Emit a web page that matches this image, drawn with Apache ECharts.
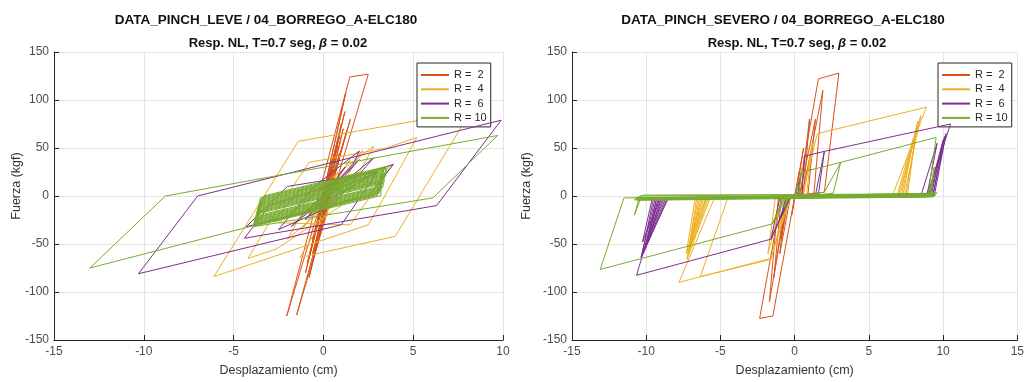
<!DOCTYPE html>
<html><head><meta charset="utf-8">
<script src="https://cdn.jsdelivr.net/npm/echarts@6/dist/echarts.min.js"></script>
<style>html,body{margin:0;padding:0;background:#fff}#c{width:1027px;height:382px}</style>
</head><body><div id="c"></div>
<script>
// ---- labels ----
const seriesNames = ['R =  2', 'R =  4', 'R =  6', 'R = 10'];
const seriesColors = ['#D95319', '#EDB120', '#7E2F8E', '#77AC30'];
const titleLeve = 'DATA_PINCH_LEVE / 04_BORREGO_A-ELC180';
const titleSevero = 'DATA_PINCH_SEVERO / 04_BORREGO_A-ELC180';
const subTitle = '{b|Resp. NL, T=0.7 seg, }{i|β}{b| = 0.02}';
const xName = 'Desplazamiento (cm)';
const yName = 'Fuerza (kgf)';
const xRangeLeve = [-15, 10];
const xRangeSevero = [-15, 15];
const yRange = [-150, 150];
const tickStep = [5, 50];

// ---- DATA_PINCH_LEVE: [desplazamiento, fuerza] ----
const leveR2 = [[0,0],[0.5,38],[-0.3,-22],[0.9,62],[-0.6,-45],[1.2,88],[-0.8,-65],[1.25,108],[1.35,109],[-0.5,-40],[-1.0,-80],[0.8,52],[-2.04,-125],[1.47,124],[2.5,127],[-1.49,-124],[-1.6,-124.5],[0.9,40],[-0.3,-40],[1.5,80],[0.4,10],[1.3,68],[0.0,-20],[0.9,45],[-0.6,-60],[0.5,20],[-0.8,-85],[0.3,-5],[-0.4,-52],[0.6,15],[-0.7,-75],[1.1,70],[-0.5,-55],[1.0,75],[-0.9,-70],[0.7,40],[-0.2,-30],[0.2,-10],[0.45,5]];
const leveR4 = [[0,0],[0.8,25],[-0.6,-22],[1.5,38],[-1.2,-35],[2.2,48],[0.5,-5],[-2.0,-45],[-0.5,5],[2.8,52],[1.0,-10],[-2.6,-55],[-4.2,-65],[-2.6,-15],[-0.8,35],[3.5,50],[5.2,61],[3.3,-4],[2.5,-30],[-6.1,-84],[-1.4,57],[8.2,88],[4.0,-42],[-1.3,-64],[1.3,18],[3.8,32],[1.5,-30],[-2.5,-28],[0.0,12],[2.0,25],[0.5,5]];
const leveR6 = [[0,0],[1.2,30],[-1.0,-25],[2.0,38],[-1.8,-32],[2.8,40],[0.5,-10],[-2.5,-35],[-0.5,10],[2.0,47],[1.65,33],[-1.0,-18],[3.0,25],[1.0,-30],[-10.3,-81],[-7.0,0],[9.9,79],[6.3,-10],[-4.4,-44],[-3.0,-10],[3.9,33],[2.5,0],[-4.3,-32],[-2.0,10],[3.0,25],[0.5,5]];
const leveR10 = [[0,0],[0.8,12],[-0.6,-14],[1.5,20],[-1.2,-18],[2.2,24],[0.2,-12],[-2.0,-22],[-0.2,6],[2.8,27],[1.8,-2],[-2.8,-27],[-1.4,5],[3.4,29],[2.9,2],[-13,-75],[-8.8,0],[9.7,63],[6.1,-2],[-3.9,-32],
  [-3.5,-1.8],[3.4,29.3],[3.0,1.5],[-3.8,-29.1],[-3.5,-3.8],[3.3,26.9],[3.1,6.0],[-3.7,-24.7],[-3.4,-5.3],[3.2,24.4],[3.2,0.4],[-3.9,-31.6],[-3.6,-10.2],[3.5,21.8],[3.0,9.5],[-3.6,-20.2],[-3.3,0.2],[3.6,31.2],[3.1,4.0],[-3.8,-27.1],[-3.4,-13.3],[3.4,17.3],[3.3,8.9],[-3.7,-22.7],[-3.4,-7.3],[3.4,23.3],[3.2,12.4],[-3.6,-18.2],[-3.4,-2.3],[3.5,28.8],[3.0,0.5],[-3.9,-30.6],[-3.6,-12.2],[3.4,19.3],[3.2,14.4],[-3.6,-16.2],[-3.4,-4.3],[3.3,25.9],[3.1,3.0],[-3.8,-28.1],[-3.5,-6.8],[3.3,23.9],[3.2,5.4],[-3.8,-26.1],[-3.5,-8.8],[3.4,22.3],[3.2,9.4],[-3.7,-21.7],[-3.5,-12.8],[3.3,17.9],[3.2,7.4],[-3.7,-23.7],[-3.5,-10.8],[3.3,19.9],[3.2,13.4],[-3.6,-17.2],[-3.5,-14.8],[3.3,15.9],[0.5,3]];

// ---- DATA_PINCH_SEVERO: [desplazamiento, fuerza] ----
const severoR2 = [[0,0],[0.3,25],[-0.2,-20],[0.6,50],[0.1,2],[-0.4,-1],[-0.9,-45],[-0.5,-2],[0.4,1],[1.0,80],[0.6,3],[-0.6,-2],[-1.4,-85],[-0.9,-2],[0.2,0],[1.6,122],[2.98,128],[2.0,4],[-0.9,-2],[-2.36,-127.5],[-1.47,-125],[0,-1],[0.5,0],[1.9,110],[1.3,3],[-0.5,-2],[-1.7,-110],[-1.1,-2],[0.3,0],[1.4,80],[0.9,2],[-0.3,-2],[-1.0,-60],[-0.6,-2],[0,0]];
const severoR4 = [[0,0],[0.5,30],[0.2,1],[-0.4,-2],[-1.0,-35],[-0.6,-2],[0.6,1],[1.2,55],[0.8,2],[-0.8,-2],[-1.8,-60],[-1.3,-2],[0.5,0],[1.53,65],[8.87,92.5],[6.6,1],[-5.4,-2],[-7.8,-90],[-1.6,-65],[-0.3,-2],[7.0,1],[8.5,84],[7.4,1],[-5.8,-2],[-7.2,-62],[-6.6,-2],[7.2,1],[8.2,70],[7.6,1],[-4.5,-2],[-6.36,-84],[-1.6,-66],[-0.5,-2],[6.9,1],[8.0,60],[7.3,1],[-6.0,-2],[-7.0,-50],[-6.3,-2],[7.1,1],[8.3,78],[7.5,1],[-5.9,-2],[-7.1,-56],[-6.4,-2],[-5.7,-2],[-7.25,-66],[-6.5,-2],[-6.1,-2],[-7.0,-45],[-5.95,-2],[-6.7,-2],[-7.3,-60],[-6.2,-2],[0,0]];
const severoR6 = [[0,0],[0.4,20],[0.2,1],[-0.5,-2],[-1.0,-25],[-0.6,-2],[0.5,1],[0.65,41.5],[2.0,46.5],[1.6,2],[-1.0,-2],[-1.6,-45],[-0.4,-2],[1.4,1],[2.0,46.5],[10.5,75],[8.87,-1],[-9.1,-2],[-10.65,-82.6],[-1.6,-45],[-0.3,-2],[9.0,0],[10.0,58],[9.2,0],[-8.5,-2],[-10.3,-62],[-9.5,-2],[9.3,0],[10.2,65],[9.4,0],[-9.3,-2],[-10.0,-52],[-9.0,-2],[8.5,0],[9.6,55],[8.9,0],[-8.7,-3],[-10.2,-60],[-9.3,-3],[9.1,0],[10.1,62],[9.3,0],[-8.9,-3],[-10.1,-56],[-9.2,-3],[-8.8,-3],[-10.35,-64],[-9.4,-3],[-9.0,-3],[-10.15,-58],[-8.6,-3],[-9.6,-3],[-10.25,-48],[-9.1,-3],[0,0]];
const severoR10 = [[0,0],[0.2,10],[0.0,1],[-0.4,-2],[-0.7,-12],[-0.5,-2],[0.3,1],[0.4,24.5],[3.1,35],[2.0,4],[-0.8,-3],[-1.5,-29],[-0.6,-3],[2.6,3],[3.1,35],[9.53,61],[9.0,2],[-11.5,-2],[-13.1,-76.5],[-1.5,-29],[-0.7,-3],[9.2,2],[9.4,30],[9.1,2],[-10.5,-3],[-10.8,-20],[-10.4,-4],[9.5,1],[-9.8,-4],[9.0,0],[-10.2,-2],
  [9.3,2],[-10.6,-3],[-10.5,-1],[9.6,3],[9.5,1],[-10.8,-4],[-10.4,0],[9.2,2.5],[9.4,-0.5],[-10.7,-2.5],[-10.2,1],[9.0,1.5],[9.3,-1],[-10.6,-4.5],[-10.3,-1.5],[9.4,0.5],[0,0]];

const leveData = [leveR2, leveR4, leveR6, leveR10];
const severoData = [severoR2, severoR4, severoR6, severoR10];

const FONT = '"Liberation Sans", Arial, sans-serif';
const chart = echarts.init(document.getElementById('c'), null, {renderer: 'canvas'});

function xAx(idx, range) {
  return {
    gridIndex: idx, type: 'value', min: range[0], max: range[1], interval: tickStep[0],
    name: xName, nameLocation: 'middle', nameGap: 24,
    nameTextStyle: {fontFamily: FONT, fontSize: 12.5, color: '#333'},
    axisLine: {show: true, onZero: false, lineStyle: {color: '#262626', width: 1}},
    axisTick: {show: true, inside: true, length: 5, lineStyle: {color: '#262626'}},
    axisLabel: {fontFamily: FONT, fontSize: 12, color: '#4d4d4d', margin: 6},
    splitLine: {show: true, lineStyle: {color: '#e4e4e4', width: 1}}
  };
}
function yAx(idx) {
  return {
    gridIndex: idx, type: 'value', min: yRange[0], max: yRange[1], interval: tickStep[1],
    axisLine: {show: true, onZero: false, lineStyle: {color: '#262626', width: 1}},
    axisTick: {show: true, inside: true, length: 5, lineStyle: {color: '#262626'}},
    axisLabel: {fontFamily: FONT, fontSize: 12, color: '#4d4d4d', margin: 5},
    splitLine: {show: true, lineStyle: {color: '#e4e4e4', width: 1}}
  };
}
function legendAt(left) {
  return {
    orient: 'vertical', left: left, top: 63, padding: [6, 4, 3, 4],
    backgroundColor: '#fff', borderColor: '#262626', borderWidth: 1, borderRadius: 0,
    icon: 'rect', itemWidth: 28, itemHeight: 2, itemGap: 2.3,
    textStyle: {fontFamily: FONT, fontSize: 11, color: '#262626', lineHeight: 12},
    data: seriesNames, selectedMode: false
  };
}
function yLabel(x) {
  return {type: 'text', x: x, y: 186, rotation: Math.PI / 2,
    style: {text: yName, fontFamily: FONT, fontSize: 12.5, fill: '#333', align: 'center', verticalAlign: 'middle'}};
}
const subRich = {
  b: {fontFamily: FONT, fontSize: 13, fontWeight: 'bold', color: '#111'},
  i: {fontFamily: FONT, fontSize: 13, fontStyle: 'italic', color: '#111'}
};
const series = [];
[leveData, severoData].forEach((set, gi) => {
  set.forEach((d, k) => {
    series.push({
      name: seriesNames[k], type: 'line', xAxisIndex: gi, yAxisIndex: gi,
      data: d, showSymbol: false, symbol: 'none', clip: true,
      lineStyle: {color: seriesColors[k], width: 1}, itemStyle: {color: seriesColors[k]},
      emphasis: {disabled: true}, z: 2 + k
    });
  });
});

chart.setOption({
  animation: false,
  backgroundColor: '#fff',
  title: [
    {text: titleLeve, left: 266, top: 13, padding: 0, textAlign: 'center',
     textStyle: {fontFamily: FONT, fontSize: 13.5, fontWeight: 'bold', color: '#111'}},
    {text: titleSevero, left: 783, top: 13, padding: 0, textAlign: 'center',
     textStyle: {fontFamily: FONT, fontSize: 13.5, fontWeight: 'bold', color: '#111'}},
    {text: subTitle, left: 278, top: 37, padding: 0, textAlign: 'center', textStyle: {rich: subRich}},
    {text: subTitle, left: 797, top: 37, padding: 0, textAlign: 'center', textStyle: {rich: subRich}}
  ],
  legend: [legendAt(417), legendAt(938)],
  grid: [
    {left: 54, top: 52, width: 449, height: 292},
    {left: 572, top: 52, width: 450, height: 294}
  ],
  xAxis: [xAx(0, xRangeLeve), xAx(1, xRangeSevero)],
  yAxis: [yAx(0), yAx(1)],
  graphic: [yLabel(17), yLabel(527)],
  series: series
});
</script></body></html>
